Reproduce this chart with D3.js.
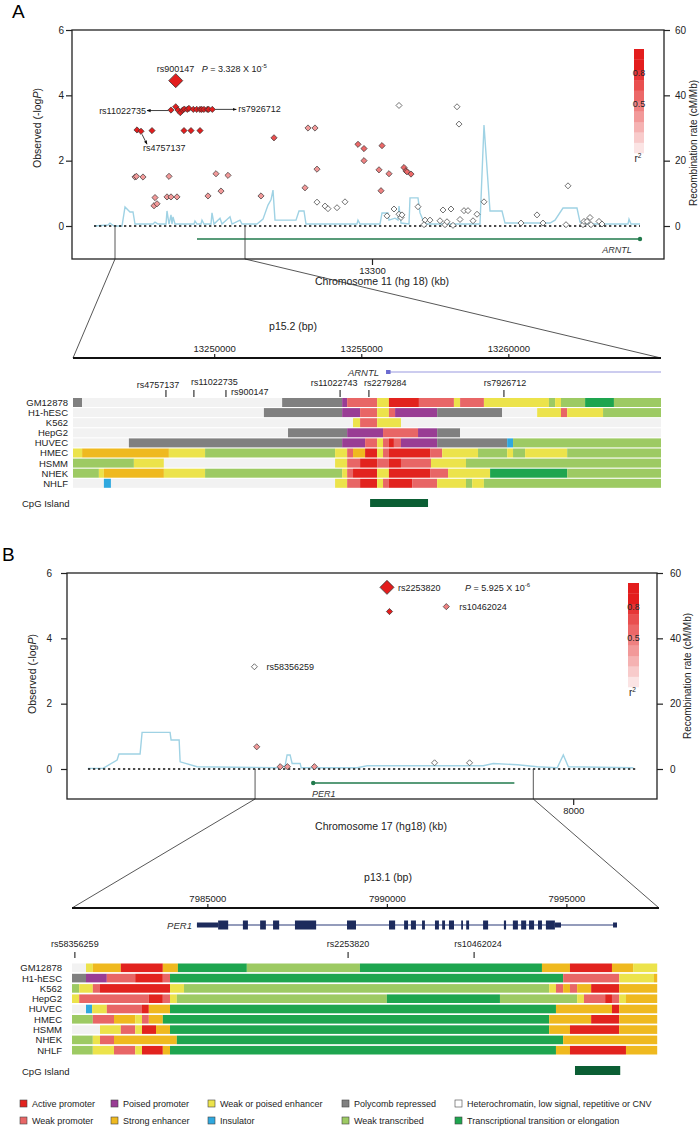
<!DOCTYPE html>
<html>
<head>
<meta charset="utf-8">
<script src="https://cdn.jsdelivr.net/npm/d3@7/dist/d3.min.js"></script>
<style>
  body { margin: 0; background: #fff; }
  svg { font-family: "Liberation Sans", Arial, Helvetica, sans-serif; }
</style>
</head>
<body>
<div id="chart"></div>
<script>
// ---------- shared categories ----------
const cellLines = ["GM12878", "H1-hESC", "K562", "HepG2", "HUVEC", "HMEC", "HSMM", "NHEK", "NHLF"];
const stateCodes = ["AP", "PP", "WE", "PR", "HC", "WP", "SE", "IN", "WT", "TE"];
const stateNames = ["Active promoter", "Poised promoter", "Weak or poised enhancer", "Polycomb repressed",
  "Heterochromatin, low signal, repetitive or CNV", "Weak promoter", "Strong enhancer", "Insulator",
  "Weak transcribed", "Transcriptional transition or elongation"];
const logPTicks = [0, 2, 4, 6];
const recombTicks = [0, 20, 40, 60];
const r2Labels = [0.8, 0.5];

// ---------- panel A : chr11, ARNTL ----------
// [kb, -logP, r2]
const pointsA = [
  [13249.75, 3.55, 0.95], [13250.93, 3.65, 0.95], [13251.5, 3.55, 0.95], [13252.08, 3.47, 0.95],
  [13252.68, 3.55, 0.95], [13253.08, 3.58, 0.95], [13253.83, 3.57, 0.95], [13254.25, 3.6, 0.95],
  [13255.33, 3.57, 0.95], [13256.18, 3.57, 0.95], [13257.0, 3.57, 0.95], [13257.43, 3.57, 0.95],
  [13258.0, 3.57, 0.95], [13258.83, 3.57, 0.95], [13259.18, 3.57, 0.95], [13260.08, 3.57, 0.95],
  [13241.25, 2.94, 0.95], [13242.25, 2.9, 0.95], [13245.0, 2.92, 0.95], [13253.0, 2.92, 0.95],
  [13254.75, 2.92, 0.95], [13257.0, 2.92, 0.95],
  [13275.5, 2.7, 0.65],
  [13240.75, 1.5, 0.35], [13241.1, 1.52, 0.35], [13242.75, 1.5, 0.35], [13249.25, 1.52, 0.35],
  [13261.0, 1.6, 0.35], [13264.0, 1.55, 0.35], [13245.75, 0.87, 0.35], [13248.75, 0.89, 0.35],
  [13249.75, 0.89, 0.35], [13251.25, 0.89, 0.35], [13259.0, 0.92, 0.35], [13272.25, 0.92, 0.35],
  [13245.5, 0.62, 0.35], [13246.25, 0.68, 0.35], [13262.25, 1.07, 0.35],
  [13284.0, 3.0, 0.35], [13285.75, 3.0, 0.35], [13286.25, 1.74, 0.35], [13283.25, 1.17, 0.35],
  [13296.5, 2.5, 0.55], [13298.0, 2.37, 0.55], [13298.0, 2.0, 0.45], [13302.5, 2.46, 0.55],
  [13301.75, 1.72, 0.45], [13304.25, 1.6, 0.45], [13302.25, 1.08, 0.45], [13308.0, 1.79, 0.55],
  [13308.5, 1.69, 0.55], [13308.75, 1.66, 0.55], [13309.75, 1.59, 0.55],
  [13286.25, 0.73, 0.05], [13288.25, 0.61, 0.05], [13289.0, 0.53, 0.05], [13291.25, 0.56, 0.05],
  [13293.25, 0.74, 0.05], [13306.75, 3.69, 0.05], [13321.25, 3.65, 0.05], [13321.75, 3.12, 0.05],
  [13305.5, 0.52, 0.05], [13303.75, 0.31, 0.05], [13306.75, 0.36, 0.05], [13307.25, 0.26, 0.05],
  [13307.5, 0.34, 0.05], [13311.5, 0.59, 0.05], [13313.25, 0.18, 0.05], [13314.5, 0.18, 0.05],
  [13313.0, 0.04, 0.05], [13317.0, 0.16, 0.05], [13317.75, 0.49, 0.05], [13318.25, 0.04, 0.05],
  [13318.75, 0.13, 0.05], [13319.75, 0.52, 0.05], [13320.25, 0.02, 0.05], [13322.0, 0.2, 0.05],
  [13323.0, 0.47, 0.05], [13324.0, 0.47, 0.05], [13325.25, 0.16, 0.05], [13326.25, 0.36, 0.05],
  [13328.0, 0.74, 0.05], [13337.25, 0.09, 0.05], [13341.25, 0.34, 0.05], [13342.75, 0.09, 0.05],
  [13348.5, 0.04, 0.05], [13349.0, 1.23, 0.05], [13352.75, 0.04, 0.05], [13353.0, 0.14, 0.05],
  [13353.75, 0.14, 0.05], [13354.5, 0.26, 0.05], [13354.75, 0.04, 0.05], [13356.75, 0.14, 0.05],
  [13357.5, 0.06, 0.05]
];
const leadA = { name: "rs900147", kb: 13250.93, logP: 4.45, p: "3.328", exp: "-5" };
// [kb, cM/Mb]
const recombA = [
  [13230.5, 0], [13234, 0.3], [13234.5, 0.9], [13235.5, 0], [13237.5, 0], [13238.25, 5.8], [13239.5, 4.3],
  [13240.25, 4.3], [13240.75, 0.6], [13245.25, 0.6], [13245.75, 1.2], [13246.5, 0.6], [13248.5, 0.6],
  [13248.75, 4.6], [13249.25, 0.6], [13249.75, 3.4], [13250, 0.6], [13250.25, 2.8], [13250.75, 0.6],
  [13255.5, 0.6], [13255.75, 1.5], [13256.25, 0.6], [13257.25, 0.6], [13257.5, 1.8], [13258, 0.6],
  [13259.75, 0.6], [13260, 4.0], [13260.5, 0.6], [13262, 2.4], [13262.5, 0.6], [13264.5, 2.8], [13265, 0.6],
  [13267, 1.8], [13267.5, 0.6], [13271.25, 0.6], [13272.75, 2.1], [13274, 6.4], [13274.75, 8.0],
  [13275.25, 11.0], [13275.75, 1.8], [13281, 1.8], [13281.75, 4.6], [13283, 4.6], [13283.5, 0.6],
  [13296.25, 0.6], [13296.5, 1.8], [13297, 0.6], [13302, 0.6], [13302.5, 4.0], [13304, 4.0],
  [13304.25, 1.8], [13305.75, 2.4], [13306.5, 1.8], [13306.75, 6.1], [13307.25, 0.9], [13309.25, 0.6],
  [13309.5, 8.6], [13311.5, 8.6], [13312, 4.0], [13312.75, 1.8], [13313.5, 0.6], [13327, 0.6],
  [13328, 30.9], [13329.5, 4.6], [13332.5, 4.6], [13333.25, 0.9], [13344.5, 0.9], [13345.75, 1.8],
  [13347.75, 5.5], [13351.25, 5.5], [13352, 1.2], [13352.75, 0.6], [13364, 0.6], [13364.25, 2.1],
  [13364.75, 0.6], [13367, 0.6]
];
const xDomainA = [13225, 13373];
const xTicksA = [13300];
const baselineA = [13230.5, 13367];
const geneA = { name: "ARNTL", start: 13256.25, end: 13367, tip: "end" };
const zoomWinA = [13235.75, 13268.25];
const subDomainA = [13245.2, 13265.19];
const subTicksA = [13250, 13255, 13260];
const subGeneA = { name: "ARNTL", start: 13255.91, end: 13265.19 };
const snpMarksA = [["rs4757137", 13248.36], ["rs11022735", 13249.31], ["rs900147", 13250.40],
  ["rs11022743", 13254.28], ["rs2279284", 13255.26], ["rs7926712", 13259.85]];
const cpgA = [13255.30, 13257.27];
// per cell line: [segment end kb, state]
const segmentsA = [
  [[13245.51, "PR"], [13252.31, "HC"], [13254.35, "PR"], [13254.52, "PP"], [13255.54, "WP"], [13255.94, "WE"], [13256.96, "AP"], [13258.15, "WP"], [13258.36, "WE"], [13259.17, "WP"], [13261.38, "WE"], [13261.59, "WT"], [13261.79, "WE"], [13262.61, "WT"], [13263.59, "TE"], [13265.19, "WT"]],
  [[13251.69, "HC"], [13254.35, "PR"], [13254.96, "PP"], [13255.54, "WP"], [13255.94, "WE"], [13256.15, "WP"], [13257.58, "PP"], [13259.79, "PR"], [13260.98, "HC"], [13261.79, "WE"], [13262.00, "WP"], [13263.22, "WE"], [13265.19, "WT"]],
  [[13254.72, "HC"], [13254.96, "WE"], [13255.54, "WP"], [13256.35, "WE"], [13265.19, "HC"]],
  [[13252.51, "HC"], [13254.52, "PR"], [13255.74, "PP"], [13256.93, "WP"], [13257.58, "PP"], [13258.36, "PR"], [13265.19, "HC"]],
  [[13247.10, "HC"], [13254.35, "PR"], [13255.13, "PP"], [13255.54, "WP"], [13255.74, "WE"], [13255.94, "WP"], [13256.11, "AP"], [13256.35, "WP"], [13257.58, "PP"], [13259.96, "PR"], [13260.16, "IN"], [13265.19, "WT"]],
  [[13245.51, "WE"], [13248.46, "SE"], [13249.69, "WE"], [13254.11, "WT"], [13254.52, "WE"], [13254.72, "WP"], [13255.13, "SE"], [13255.54, "AP"], [13255.74, "WE"], [13255.94, "WP"], [13257.34, "AP"], [13257.75, "WP"], [13258.97, "WE"], [13259.96, "WT"], [13260.16, "WE"], [13260.57, "WT"], [13262.00, "WE"], [13265.19, "WT"]],
  [[13247.27, "WT"], [13248.29, "WE"], [13254.11, "HC"], [13254.52, "WE"], [13254.96, "WP"], [13255.54, "AP"], [13255.94, "WP"], [13256.35, "AP"], [13257.37, "WP"], [13258.56, "WE"], [13265.19, "WT"]],
  [[13246.08, "WT"], [13246.25, "WE"], [13248.29, "SE"], [13249.69, "WE"], [13254.35, "WT"], [13254.52, "WE"], [13254.72, "WP"], [13255.54, "AP"], [13255.94, "WE"], [13257.34, "AP"], [13257.95, "WP"], [13259.38, "WE"], [13262.00, "TE"], [13265.19, "WT"]],
  [[13246.25, "HC"], [13246.49, "IN"], [13254.11, "HC"], [13254.52, "WE"], [13254.96, "WP"], [13255.54, "AP"], [13255.74, "WE"], [13255.94, "WP"], [13256.73, "AP"], [13257.58, "WP"], [13258.56, "WE"], [13258.77, "WT"], [13259.17, "WE"], [13265.19, "WT"]]
];

// ---------- panel B : chr17, PER1 ----------
const pointsB = [
  [7980.98, 3.13, 0.05], [7981.12, 0.68, 0.35], [7982.52, 0.07, 0.35], [7982.95, 0.07, 0.35],
  [7984.56, 0.07, 0.35], [7989.04, 4.82, 0.95], [7992.43, 4.97, 0.4], [7991.73, 0.19, 0.05],
  [7993.82, 0.19, 0.05]
];
const leadB = { name: "rs2253820", kb: 7988.89, logP: 5.56, p: "5.925", exp: "-6" };
const recombB = [
  [7971.05, 0.2], [7971.95, 0.2], [7972.79, 2.75], [7972.90, 4.6], [7974.16, 4.6], [7974.28, 11.2],
  [7975.95, 11.2], [7976.01, 8.9], [7976.49, 8.9], [7976.55, 2.2], [7977.56, 0.7], [7982.34, 0.4],
  [7982.81, 0.9], [7982.93, 4.3], [7983.11, 4.3], [7983.23, 1.7], [7983.71, 1.7], [7983.77, 0.4],
  [7987.11, 0.4], [7987.71, 1.0], [7994.64, 1.0], [7995.23, 1.7], [7996.67, 1.3], [7997.86, 0.7],
  [7999.05, 0.4], [7999.41, 4.3], [7999.71, 0.7], [8003.59, 0.4]
];
const xDomainB = [7969.8, 8005.0];
const xTicksB = [8000];
const baselineB = [7971.05, 8003.7];
const geneB = { name: "PER1", start: 7984.49, end: 7996.49, tip: "start" };
const zoomWinB = [7981.02, 7997.62];
const subDomainB = [7981.23, 7997.58];
const subTicksB = [7985, 7990, 7995];
const subGeneB = { name: "PER1", start: 7984.71, end: 7996.36 };
// [start kb, end kb, kind]
const exonsB = [
  [7984.71, 7985.30, "utr"], [7985.30, 7985.58, "cds"], [7985.99, 7986.13, "cds"], [7986.47, 7986.63, "cds"],
  [7986.83, 7987.00, "cds"], [7987.44, 7988.03, "cds"], [7988.89, 7989.14, "cds"], [7990.06, 7990.23, "cds"],
  [7990.48, 7990.59, "cds"], [7990.67, 7990.81, "cds"], [7990.98, 7991.06, "cds"], [7991.34, 7991.45, "cds"],
  [7991.54, 7991.62, "cds"], [7991.73, 7991.87, "cds"], [7992.07, 7992.12, "cds"], [7992.21, 7992.29, "cds"],
  [7992.68, 7992.82, "cds"], [7993.26, 7993.32, "cds"], [7993.51, 7993.65, "cds"], [7993.74, 7993.88, "cds"],
  [7993.96, 7994.10, "cds"], [7994.21, 7994.32, "cds"], [7994.43, 7994.68, "cds"], [7994.68, 7994.85, "utr"],
  [7996.30, 7996.41, "utr"]
];
const snpMarksB = [["rs58356259", 7981.31], ["rs2253820", 7988.92], ["rs10462024", 7992.43]];
const cpgB = [7995.24, 7996.50];
const segmentsB = [
  [[7981.62, "HC"], [7981.81, "WE"], [7982.59, "SE"], [7983.76, "AP"], [7984.18, "SE"], [7986.10, "TE"], [7989.25, "WT"], [7994.32, "TE"], [7995.10, "SE"], [7996.27, "AP"], [7996.86, "SE"], [7997.53, "WE"]],
  [[7981.62, "PR"], [7982.20, "PP"], [7982.99, "WP"], [7983.76, "AP"], [7983.96, "WP"], [7994.91, "TE"], [7996.47, "WP"], [7997.44, "WE"], [7997.53, "SE"]],
  [[7981.43, "WT"], [7981.81, "WE"], [7982.01, "WP"], [7983.96, "AP"], [7984.35, "WE"], [7994.52, "WT"], [7994.71, "WE"], [7994.91, "WP"], [7995.10, "SE"], [7995.30, "WP"], [7995.69, "SE"], [7996.47, "AP"], [7997.53, "SE"]],
  [[7981.43, "WE"], [7983.37, "WP"], [7983.76, "AP"], [7983.96, "WP"], [7984.15, "WE"], [7990.00, "WT"], [7993.15, "TE"], [7995.30, "WT"], [7995.49, "WE"], [7996.08, "WP"], [7996.27, "AP"], [7996.47, "WP"], [7996.66, "WE"], [7997.53, "SE"]],
  [[7981.62, "HC"], [7981.79, "IN"], [7982.20, "WE"], [7983.18, "WP"], [7983.37, "AP"], [7983.96, "SE"], [7994.71, "TE"], [7996.27, "SE"], [7996.47, "AP"], [7997.53, "SE"]],
  [[7981.81, "WT"], [7982.40, "WP"], [7982.99, "SE"], [7983.18, "WE"], [7983.37, "WP"], [7983.76, "SE"], [7994.52, "TE"], [7995.69, "SE"], [7996.47, "AP"], [7997.53, "SE"]],
  [[7982.01, "HC"], [7982.59, "WE"], [7982.99, "WP"], [7983.18, "WE"], [7983.57, "AP"], [7983.96, "SE"], [7994.52, "TE"], [7995.10, "SE"], [7996.47, "AP"], [7997.53, "SE"]],
  [[7981.81, "WT"], [7982.01, "WE"], [7982.40, "WP"], [7984.15, "SE"], [7994.91, "TE"], [7997.53, "SE"]],
  [[7981.81, "WT"], [7982.40, "WE"], [7982.99, "WP"], [7983.18, "WE"], [7983.76, "AP"], [7983.96, "SE"], [7994.71, "TE"], [7995.10, "SE"], [7996.66, "AP"], [7997.53, "SE"]]
];

// ---------- styles ----------
const stateColor = {
  AP: "#e2231e", WP: "#e86666", PP: "#993d94", SE: "#efb91f", WE: "#ece34b",
  IN: "#2fa8df", PR: "#808080", WT: "#9dca63", TE: "#1ea54f", HC: "#f2f2f2"
};
const r2Color = d3.interpolateRgb("#fbe4e4", "#e31d1d");
const r2Fill = r2 => r2 < 0.1 ? "#ffffff" : r2Color(Math.min(1, Math.floor(r2 * 10) / 8));
const diamond = s => `M0,${-s}L${s},0L0,${s}L${-s},0Z`;

const layoutA = {
  letterX: 12, letterY: 18, left: 72, right: 664, top: 30, bottom: 259, y0: 226,
  yPad: 2, rPad: 5, yLabelX: 41, yLabelY: 128, rLabelX: 697, rLabelY: 143,
  xTitleX: 382, xTitleY: 285, geneY: 239, geneLabel: { x: 617, y: 253, anchor: "middle" },
  lg: { x: 634, w: 10, top: 49, bottom: 153 },
  subLeft: 73, subRight: 661, subAxisY: 358, subTitleX: 293, subTitleY: 330,
  subGeneY: 372, snpTick: [390, 397],
  snpLabels: [{ dx: -8, y: 388, a: "middle" }, { dx: -3, y: 385, a: "start" }, { dx: 5, y: 395, a: "start" },
    { dx: -6, y: 386, a: "middle" }, { dx: -5, y: 386, a: "start" }, { dx: 1, y: 386, a: "middle" }],
  rowTop: 398, rowStep: 10.1, rowH: 9, rowLabelX: 68,
  cpgY: 499, cpgH: 8, cpgLabelY: 507
};
const layoutB = {
  letterX: 2, letterY: 561, left: 67, right: 657, top: 573, bottom: 799, y0: 769,
  yPad: 9, rPad: 7, yLabelX: 36, yLabelY: 674, rLabelX: 691, rLabelY: 676,
  xTitleX: 381, xTitleY: 830, geneY: 783, geneLabel: { x: 312, y: 797, anchor: "start" },
  lg: { x: 628, w: 11, top: 583, bottom: 687 },
  subLeft: 72, subRight: 659, subAxisY: 908, subTitleX: 388, subTitleY: 881,
  subGeneY: 925, snpTick: [952, 958],
  snpLabels: [{ dx: 0, y: 947, a: "middle" }, { dx: 0, y: 947, a: "middle" }, { dx: 4, y: 947, a: "middle" }],
  rowTop: 963.5, rowStep: 10.3, rowH: 8.6, rowLabelX: 62,
  cpgY: 1066, cpgH: 9, cpgLabelY: 1075
};

const svg = d3.select("#chart").append("svg").attr("width", 700).attr("height", 1129);
const defs = svg.append("defs");
defs.append("marker").attr("id", "arrow").attr("viewBox", "0 0 10 10").attr("refX", 9).attr("refY", 5)
  .attr("markerWidth", 5).attr("markerHeight", 5).attr("orient", "auto")
  .append("path").attr("d", "M0,1L10,5L0,9Z").attr("fill", "#111");

function styleAxis(sel, size) {
  sel.attr("font-family", null).attr("font-size", null);
  sel.select(".domain").remove();
  sel.selectAll(".tick line").attr("stroke", "#222").attr("stroke-width", 1.2);
  sel.selectAll(".tick text").attr("fill", "#222").style("font-size", size + "px");
}

function pValue(g, x, y, lead) {
  const t = g.append("text").attr("x", x).attr("y", y).style("font-size", "9px").attr("fill", "#222");
  t.append("tspan").attr("font-style", "italic").text("P");
  t.append("tspan").text(` = ${lead.p} X 10`);
  t.append("tspan").attr("dy", -4).style("font-size", "6px").text(lead.exp);
}

function drawPanel(letter, L, D) {
  const g = svg.append("g");
  const x = d3.scaleLinear().domain(D.xDomain).range([L.left, L.right]);
  const y = d3.scaleLinear().domain([0, 6]).range([L.y0, L.top]);
  const yr = d3.scaleLinear().domain([0, 60]).range([L.y0, L.top]);
  const sub = d3.scaleLinear().domain(D.subDomain).range([L.subLeft, L.subRight]);
  const fmt = d3.format("d");

  g.append("text").attr("x", L.letterX).attr("y", L.letterY).style("font-size", "19px").text(letter);

  // recombination rate line
  g.append("path").datum(D.recomb)
    .attr("fill", "none").attr("stroke", "#9fd2e4").attr("stroke-width", 1.4)
    .attr("d", d3.line().x(d => x(d[0])).y(d => yr(d[1])));

  // zero baseline (dotted)
  g.append("line")
    .attr("x1", x(D.baseline[0])).attr("x2", x(D.baseline[1]))
    .attr("y1", y(0)).attr("y2", y(0))
    .attr("stroke", "#111").attr("stroke-width", 1.4).attr("stroke-dasharray", "2.3,2.7");

  // gene arrow in the top plot
  const gy = L.geneY;
  g.append("line").attr("x1", x(D.gene.start)).attr("x2", x(D.gene.end)).attr("y1", gy).attr("y2", gy)
    .attr("stroke", "#217a4c").attr("stroke-width", 1.3);
  g.append("circle").attr("cx", x(D.gene[D.gene.tip])).attr("cy", gy).attr("r", 2.2).attr("fill", "#217a4c");
  g.append("text").attr("x", L.geneLabel.x).attr("y", L.geneLabel.y).attr("text-anchor", L.geneLabel.anchor)
    .attr("font-style", "italic").style("font-size", "9px").attr("fill", "#333").text(D.gene.name);

  // zoom connectors
  const zx = D.zoomWin.map(x);
  const sx = D.subDomain.map(sub);
  [0, 1].forEach(i => {
    g.append("polyline")
      .attr("points", `${zx[i]},${y(0)} ${zx[i]},${L.bottom} ${sx[i]},${L.subAxisY}`)
      .attr("fill", "none").attr("stroke", "#444").attr("stroke-width", 0.9);
  });

  // SNP points (white first, then by r2 so the reds stay on top)
  const pts = D.points.slice().sort((a, b) => a[2] - b[2]);
  g.selectAll(".snp").data(pts).enter().append("path")
    .attr("class", "snp")
    .attr("transform", d => `translate(${x(d[0])},${y(d[1])})`)
    .attr("d", d => diamond(d[2] < 0.1 ? 3 : 3.1))
    .attr("fill", d => r2Fill(d[2]))
    .attr("stroke", "#333").attr("stroke-width", 0.7);
  g.append("path")
    .attr("transform", `translate(${x(D.lead.kb)},${y(D.lead.logP)})`)
    .attr("d", diamond(7)).attr("fill", "#e31d1d").attr("stroke", "#333").attr("stroke-width", 0.8);

  // r2 legend bar
  const lg = d3.scaleLinear().domain([0, 1]).range([L.lg.bottom, L.lg.top]);
  d3.range(10).forEach(i => {
    g.append("rect").attr("x", L.lg.x).attr("width", L.lg.w)
      .attr("y", lg((i + 1) / 10)).attr("height", lg(i / 10) - lg((i + 1) / 10) + 0.3)
      .attr("fill", r2Color(Math.min(1, i / 8)));
  });
  r2Labels.forEach(v => {
    g.append("text").attr("x", L.lg.x + L.lg.w / 2).attr("y", lg(v) + 6).attr("text-anchor", "middle")
      .style("font-size", "9px").attr("fill", "#222").text(v);
  });
  const r2t = g.append("text").attr("x", L.lg.x + L.lg.w / 2 - 1).attr("y", L.lg.bottom + 9)
    .attr("text-anchor", "middle").style("font-size", "10px").attr("fill", "#222");
  r2t.append("tspan").text("r");
  r2t.append("tspan").attr("dy", -4).style("font-size", "6.5px").text("2");

  // frame + axes
  g.append("rect").attr("x", L.left).attr("y", L.top).attr("width", L.right - L.left).attr("height", L.bottom - L.top)
    .attr("fill", "none").attr("stroke", "#222").attr("stroke-width", 1.3);
  g.append("g").attr("transform", `translate(${L.left},0)`)
    .call(d3.axisLeft(y).tickValues(logPTicks).tickSize(6).tickPadding(L.yPad).tickFormat(fmt))
    .call(s => styleAxis(s, 10));
  g.append("g").attr("transform", `translate(${L.right},0)`)
    .call(d3.axisRight(yr).tickValues(recombTicks).tickSize(6).tickPadding(L.rPad).tickFormat(fmt))
    .call(s => styleAxis(s, 10));
  g.append("g").attr("transform", `translate(0,${L.bottom})`)
    .call(d3.axisBottom(x).tickValues(D.xTicks).tickSize(6).tickPadding(2).tickFormat(fmt))
    .call(s => styleAxis(s, 9.5));

  const yl = g.append("text").attr("transform", `translate(${L.yLabelX},${L.yLabelY}) rotate(-90)`)
    .attr("text-anchor", "middle").style("font-size", "10.5px").attr("fill", "#222");
  yl.append("tspan").text("Observed (-log");
  yl.append("tspan").attr("font-style", "italic").text("P");
  yl.append("tspan").text(")");
  g.append("text").attr("transform", `translate(${L.rLabelX},${L.rLabelY}) rotate(-90)`)
    .attr("text-anchor", "middle").style("font-size", "10px").attr("fill", "#222")
    .text("Recombination rate (cM/Mb)");
  g.append("text").attr("x", L.xTitleX).attr("y", L.xTitleY).attr("text-anchor", "middle")
    .style("font-size", "10.5px").attr("fill", "#222").text(D.xTitle);

  // zoomed sub-axis
  g.append("text").attr("x", L.subTitleX).attr("y", L.subTitleY).attr("text-anchor", "middle")
    .style("font-size", "10.5px").attr("fill", "#222").text(D.subTitle);
  g.append("g").attr("transform", `translate(0,${L.subAxisY})`)
    .call(d3.axisTop(sub).tickValues(D.subTicks).tickSize(4).tickPadding(2).tickFormat(d => fmt(d * 1000)))
    .call(s => styleAxis(s, 9.5));
  g.append("line").attr("x1", L.subLeft).attr("x2", L.subRight).attr("y1", L.subAxisY).attr("y2", L.subAxisY)
    .attr("stroke", "#111").attr("stroke-width", 2);

  // SNP ticks in the zoomed region
  D.snps.forEach((s, i) => {
    const sx0 = sub(s[1]);
    const lab = L.snpLabels[i];
    g.append("line").attr("x1", sx0).attr("x2", sx0).attr("y1", L.snpTick[0]).attr("y2", L.snpTick[1])
      .attr("stroke", "#222").attr("stroke-width", 1.1);
    g.append("text").attr("x", sx0 + lab.dx).attr("y", lab.y).attr("text-anchor", lab.a)
      .style("font-size", "9px").attr("fill", "#222").text(s[0]);
  });

  // chromatin state rows
  D.segments.forEach((row, r) => {
    const ry = L.rowTop + r * L.rowStep;
    let start = D.subDomain[0];
    row.forEach(([end, code]) => {
      g.append("rect").attr("x", sub(start)).attr("width", Math.max(0.5, sub(end) - sub(start)))
        .attr("y", ry).attr("height", L.rowH).attr("fill", stateColor[code]);
      start = end;
    });
    g.append("text").attr("x", L.rowLabelX).attr("y", ry + L.rowH / 2 + 3.4).attr("text-anchor", "end")
      .style("font-size", "9.5px").attr("fill", "#222").text(cellLines[r]);
  });

  // CpG island
  g.append("text").attr("x", 22).attr("y", L.cpgLabelY).style("font-size", "9.5px").attr("fill", "#222").text("CpG Island");
  g.append("rect").attr("x", sub(D.cpg[0])).attr("width", sub(D.cpg[1]) - sub(D.cpg[0]))
    .attr("y", L.cpgY).attr("height", L.cpgH).attr("fill", "#0b5e34");

  return { g, x, y, sub };
}

// ---------- panel A ----------
const A = drawPanel("A", layoutA, {
  xDomain: xDomainA, xTicks: xTicksA, xTitle: "Chromosome 11 (hg 18) (kb)", points: pointsA, lead: leadA,
  recomb: recombA, baseline: baselineA, gene: geneA, zoomWin: zoomWinA, subDomain: subDomainA,
  subTicks: subTicksA, subTitle: "p15.2 (bp)", snps: snpMarksA, segments: segmentsA, cpg: cpgA
});
{
  const { g, x, y, sub } = A;
  const lx = x(leadA.kb), ly = y(leadA.logP);
  g.append("text").attr("x", lx - 19).attr("y", ly - 9).style("font-size", "9px").attr("fill", "#222").text(leadA.name);
  pValue(g, lx + 26, ly - 9, leadA);
  // arrows to the edges of the top cluster
  const c0 = pointsA[0], c1 = pointsA[15], c2 = pointsA[17];
  const ax0 = x(c0[0]), ay0 = y(c0[1]) + 0.5;
  g.append("line").attr("x1", ax0 - 3).attr("x2", ax0 - 24).attr("y1", ay0).attr("y2", ay0)
    .attr("stroke", "#111").attr("stroke-width", 0.8).attr("marker-end", "url(#arrow)");
  g.append("text").attr("x", ax0 - 25).attr("y", ay0 + 3).attr("text-anchor", "end")
    .style("font-size", "9px").attr("fill", "#222").text("rs11022735");
  const ax1 = x(c1[0]), ay1 = y(c1[1]);
  g.append("line").attr("x1", ax1 + 3).attr("x2", ax1 + 24).attr("y1", ay1).attr("y2", ay1)
    .attr("stroke", "#111").attr("stroke-width", 0.8).attr("marker-end", "url(#arrow)");
  g.append("text").attr("x", ax1 + 26).attr("y", ay1 + 3)
    .style("font-size", "9px").attr("fill", "#222").text("rs7926712");
  const ax2 = x(c2[0]), ay2 = y(c2[1]);
  g.append("line").attr("x1", ax2 + 1).attr("x2", ax2 + 6).attr("y1", ay2 + 3).attr("y2", ay2 + 13)
    .attr("stroke", "#111").attr("stroke-width", 0.8).attr("marker-end", "url(#arrow)");
  g.append("text").attr("x", ax2 + 2).attr("y", ay2 + 20)
    .style("font-size", "9px").attr("fill", "#222").text("rs4757137");
  // ARNTL transcript in zoomed region
  const gy = layoutA.subGeneY;
  g.append("line").attr("x1", sub(subGeneA.start)).attr("x2", sub(subGeneA.end)).attr("y1", gy).attr("y2", gy)
    .attr("stroke", "#9a9ae0").attr("stroke-width", 1.2);
  g.append("rect").attr("x", sub(subGeneA.start) - 2).attr("y", gy - 2).attr("width", 4.5).attr("height", 4)
    .attr("fill", "#6b6bd0");
  g.append("text").attr("x", sub(subGeneA.start) - 9).attr("y", gy + 3.5).attr("text-anchor", "end")
    .attr("font-style", "italic").style("font-size", "9.5px").attr("fill", "#333").text(subGeneA.name);
}

// ---------- panel B ----------
const B = drawPanel("B", layoutB, {
  xDomain: xDomainB, xTicks: xTicksB, xTitle: "Chromosome 17 (hg18) (kb)", points: pointsB, lead: leadB,
  recomb: recombB, baseline: baselineB, gene: geneB, zoomWin: zoomWinB, subDomain: subDomainB,
  subTicks: subTicksB, subTitle: "p13.1 (bp)", snps: snpMarksB, segments: segmentsB, cpg: cpgB
});
{
  const { g, x, y, sub } = B;
  const lx = x(leadB.kb), ly = y(leadB.logP);
  g.append("text").attr("x", lx + 11).attr("y", ly + 3.5).style("font-size", "9px").attr("fill", "#222").text(leadB.name);
  pValue(g, lx + 78, ly + 3.5, leadB);
  const p1 = pointsB[6], p2 = pointsB[0];
  g.append("text").attr("x", x(p1[0]) + 13).attr("y", y(p1[1]) + 3)
    .style("font-size", "9px").attr("fill", "#222").text("rs10462024");
  g.append("text").attr("x", x(p2[0]) + 12).attr("y", y(p2[1]) + 3.5)
    .style("font-size", "9px").attr("fill", "#222").text("rs58356259");
  // PER1 transcript
  const gy = layoutB.subGeneY;
  g.append("line").attr("x1", sub(subGeneB.start)).attr("x2", sub(subGeneB.end)).attr("y1", gy).attr("y2", gy)
    .attr("stroke", "#2a3a78").attr("stroke-width", 1.1);
  g.selectAll(".exon").data(exonsB).enter().append("rect")
    .attr("x", d => sub(d[0])).attr("width", d => Math.max(1.5, sub(d[1]) - sub(d[0])))
    .attr("y", d => d[2] === "cds" ? gy - 4.5 : gy - 2.5)
    .attr("height", d => d[2] === "cds" ? 9 : 5)
    .attr("fill", "#1d2b5c");
  g.append("text").attr("x", sub(subGeneB.start) - 5).attr("y", gy + 3.5).attr("text-anchor", "end")
    .attr("font-style", "italic").style("font-size", "9.5px").attr("fill", "#333").text(subGeneB.name);
}

// ---------- chromatin state legend ----------
const legendCols = [20, 111, 208, 342, 455];
const legendRows = [1100, 1117];
stateCodes.forEach((code, i) => {
  const cx = legendCols[i % 5], cy = legendRows[Math.floor(i / 5)];
  svg.append("rect").attr("x", cx).attr("y", cy).attr("width", 7).attr("height", 7)
    .attr("fill", code === "HC" ? "#ffffff" : stateColor[code]).attr("stroke", "#444").attr("stroke-width", 0.6);
  svg.append("text").attr("x", cx + 12).attr("y", cy + 7).style("font-size", "9px").attr("fill", "#222")
    .text(stateNames[i]);
});
</script>
</body>
</html>
